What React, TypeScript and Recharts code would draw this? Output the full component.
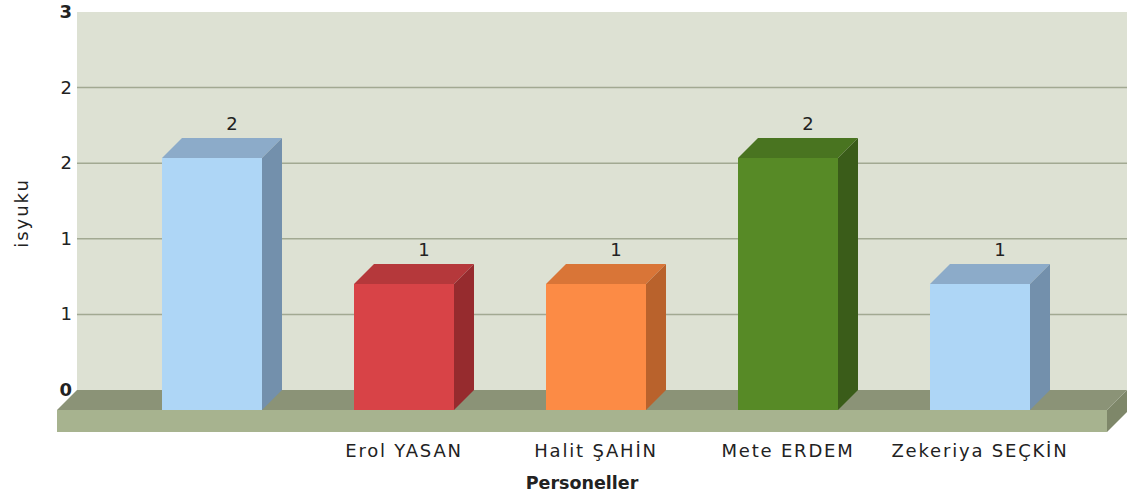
import {
  BarChart,
  Bar,
  XAxis,
  YAxis,
  CartesianGrid,
  ReferenceArea,
  LabelList,
  Cell,
} from "recharts";

const personeller = ["", "Erol YASAN", "Halit ŞAHİN", "Mete ERDEM", "Zekeriya SEÇKİN"];
const isyuku = [2, 1, 1, 2, 1];
const yTicks = [0, 0.6, 1.2, 1.8, 2.4, 3];
const gridDegerleri = [0.6, 1.2, 1.8, 2.4];

// front / top / side shades for each bar
const renkler = [
  { front: "#AED6F6", top: "#8CABC9", side: "#7390AC" },
  { front: "#D84347", top: "#B5383B", side: "#962B2E" },
  { front: "#FC8B45", top: "#D97537", side: "#B9622C" },
  { front: "#578A26", top: "#497420", side: "#3A5C19" },
  { front: "#AED6F6", top: "#8CABC9", side: "#7390AC" },
];

const DEPTH = 20;
const PAD = { left: 59, right: 31 };
const FONT = "'DejaVu Sans', Verdana, sans-serif";

const data = personeller.map((ad, i) => ({ ad, deger: isyuku[i] }));

function Bar3D(props: any) {
  const { x, y, width, height, index } = props;
  const c = renkler[index % renkler.length];
  const fx = x - DEPTH;
  const fy = y + DEPTH;
  const bottom = y + height + DEPTH;
  return (
    <g>
      <polygon
        points={`${fx},${fy} ${x},${y} ${x + width},${y} ${fx + width},${fy}`}
        fill={c.top}
      />
      <polygon
        points={`${fx + width},${fy} ${x + width},${y} ${x + width},${y + height} ${fx + width},${bottom}`}
        fill={c.side}
      />
      <rect x={fx} y={fy} width={width} height={bottom - fy} fill={c.front} />
    </g>
  );
}

// floor slab under the bars, stretched over the axis padding
function Zemin(props: any) {
  const x = props.x - PAD.left;
  const width = props.width + PAD.left + PAD.right;
  const b = props.y + props.height;
  const T = 22;
  return (
    <g>
      <polygon
        points={`${x},${b} ${x + width},${b} ${x + width - DEPTH},${b + DEPTH} ${x - DEPTH},${b + DEPTH}`}
        fill="#8B9377"
      />
      <rect x={x - DEPTH} y={b + DEPTH} width={width} height={T} fill="#A7B38F" />
      <polygon
        points={`${x + width - DEPTH},${b + DEPTH} ${x + width},${b} ${x + width},${b + T} ${x + width - DEPTH},${b + DEPTH + T}`}
        fill="#7E8769"
      />
    </g>
  );
}

function YTick(props: any) {
  const { x, y, payload } = props;
  const v = payload.value;
  const kalin = v === 0 || v === 3;
  return (
    <text
      x={x + 3}
      y={y}
      dy={6}
      textAnchor="end"
      fontFamily={FONT}
      fontSize={18}
      fontWeight={kalin ? "bold" : "normal"}
      fill="#222"
    >
      {Math.round(v)}
    </text>
  );
}

function XTick(props: any) {
  const { x, y, payload } = props;
  return (
    <text
      x={x - DEPTH}
      y={y}
      dy={59}
      textAnchor="middle"
      fontFamily={FONT}
      fontSize={18}
      letterSpacing={1.8}
      fill="#222"
    >
      {payload.value}
    </text>
  );
}

function DegerEtiketi(props: any) {
  const { x, y, width, value } = props;
  return (
    <text x={x + width / 2} y={y - 8} textAnchor="middle" fontFamily={FONT} fontSize={18} fill="#222">
      {value}
    </text>
  );
}

function YBaslik(props: any) {
  const { x, y, height } = props.viewBox;
  return (
    <text
      transform={`translate(${x + 28},${y + height / 2 + 12}) rotate(-90)`}
      textAnchor="middle"
      fontFamily={FONT}
      fontSize={18}
      letterSpacing={2}
      fill="#222"
    >
      isyuku
    </text>
  );
}

function XBaslik(props: any) {
  const { x, y, width, height } = props.viewBox;
  return (
    <text
      x={x + width / 2 - DEPTH}
      y={y + height + 39}
      textAnchor="middle"
      fontFamily={FONT}
      fontSize={17.5}
      fontWeight="bold"
      fill="#222"
    >
      Personeller
    </text>
  );
}

export default function App() {
  return (
    <div style={{ position: "absolute", left: 0, top: 0 }}>
      <BarChart
        width={1132}
        height={496}
        data={data}
        margin={{ top: 12, right: 5, bottom: 46, left: 0 }}
        barSize={100}
      >
        <CartesianGrid
          vertical={false}
          horizontalValues={gridDegerleri}
          fill="#DDE1D3"
          stroke="#A2A992"
          strokeWidth={1.5}
        />
        <ReferenceArea y1={0} y2={3} shape={<Zemin />} fillOpacity={0} ifOverflow="visible" />
        <XAxis
          dataKey="ad"
          axisLine={false}
          tickLine={false}
          padding={PAD}
          height={60}
          tick={<XTick />}
          interval={0}
          label={<XBaslik />}
        />
        <YAxis
          domain={[0, 3]}
          ticks={yTicks}
          axisLine={false}
          tickLine={false}
          width={77}
          tick={<YTick />}
          label={<YBaslik />}
        />
        <Bar dataKey="deger" shape={<Bar3D />} isAnimationActive={false}>
          {data.map((_, i) => (
            <Cell key={i} fill={renkler[i].front} />
          ))}
          <LabelList dataKey="deger" content={<DegerEtiketi />} />
        </Bar>
      </BarChart>
    </div>
  );
}
